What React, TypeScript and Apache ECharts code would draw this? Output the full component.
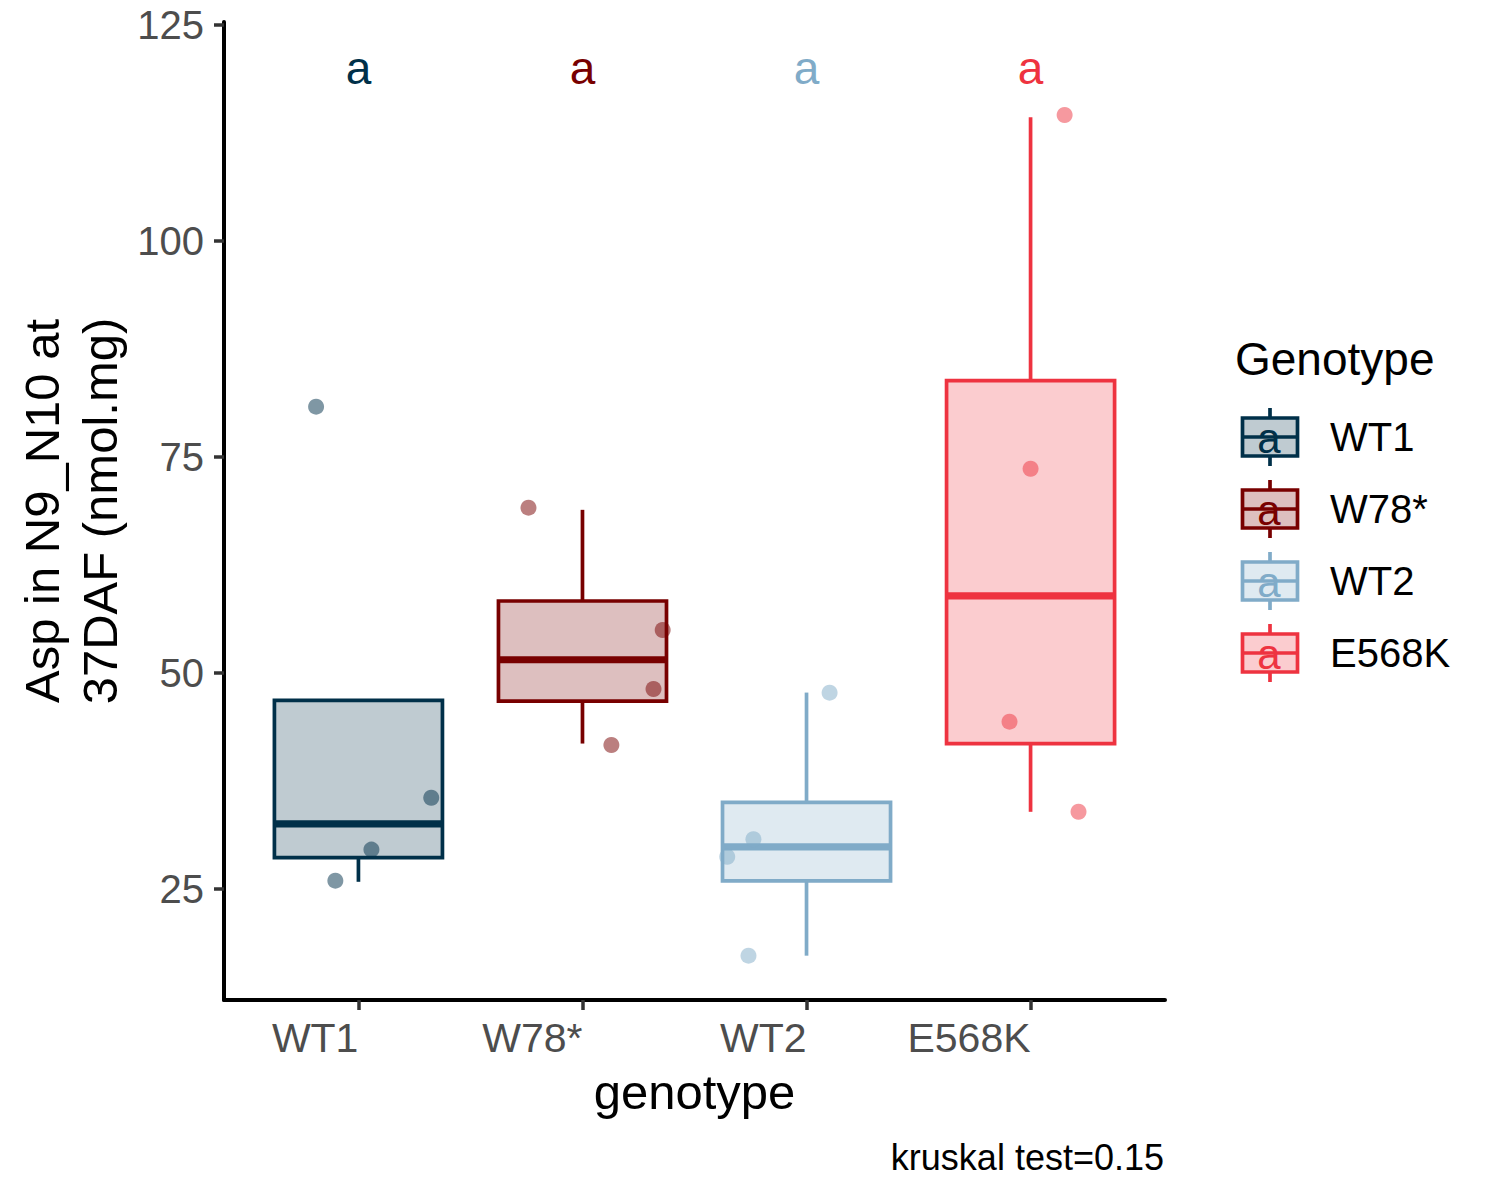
import React, { useEffect, useRef } from 'react';
import * as echarts from 'echarts';

const FONT = '"Liberation Sans", Arial, Helvetica, sans-serif';

const categories = ['WT1', 'W78*', 'WT2', 'E568K'];
const colors = ['#003049', '#780000', '#80abc8', '#ee3340'];

// box statistics
const lowerWhisker = [25.8, 41.8, 17.25, 33.9];
const q1 = [28.6, 46.7, 25.9, 41.8];
const median = [32.5, 51.5, 29.85, 58.9];
const q3 = [46.8, 58.3, 35.0, 83.8];
const upperWhisker = [46.8, 68.85, 47.7, 114.3];

// jittered points (x = jittered category position, y = value)
const wt1X = [0.811, 1.325, 1.058, 0.897];
const wt1Y = [80.79, 35.53, 29.53, 25.93];
const w78X = [1.759, 2.358, 2.317, 2.129];
const w78Y = [69.1, 54.94, 48.11, 41.63];
const wt2X = [3.103, 2.763, 2.646, 2.741];
const wt2Y = [47.69, 30.72, 28.7, 17.25];
const e568kX = [4.152, 4.0, 3.906, 4.214];
const e568kY = [114.55, 73.61, 44.33, 33.91];

const letters = ['a', 'a', 'a', 'a'];
const letterY = [120, 120, 120, 120];

const yTicks = [25, 50, 75, 100, 125];
const xTicks = [1, 2, 3, 4];

const pointsX = [wt1X, w78X, wt2X, e568kX];
const pointsY = [wt1Y, w78Y, wt2Y, e568kY];

function rgba(hex: string, a: number) {
  const r = parseInt(hex.slice(1, 3), 16);
  const g = parseInt(hex.slice(3, 5), 16);
  const b = parseInt(hex.slice(5, 7), 16);
  return `rgba(${r},${g},${b},${a})`;
}

const HALF = 0.375;
const LW = 3.7;

export default function App() {
  const ref = useRef<HTMLDivElement>(null);
  useEffect(() => {
    document.body.style.margin = '0';
    const chart = echarts.init(ref.current!, null, { renderer: 'svg' });

    const boxData = categories.map((_, i) => [i + 1, lowerWhisker[i], q1[i], median[i], q3[i], upperWhisker[i]]);

    const boxSeries = {
      type: 'custom',
      name: 'box',
      z: 2,
      data: boxData,
      encode: { x: 0, y: [1, 5] },
      renderItem: (params: any, api: any) => {
        const x = api.value(0);
        const lo = api.value(1);
        const a = api.value(2);
        const m = api.value(3);
        const b = api.value(4);
        const hi = api.value(5);
        const c = colors[params.dataIndex];
        const tl = api.coord([x - HALF, b]);
        const br = api.coord([x + HALF, a]);
        const mc = api.coord([x, m]);
        const pLo = api.coord([x, lo]);
        const pHi = api.coord([x, hi]);
        const cx = mc[0];
        return {
          type: 'group',
          children: [
            { type: 'line', shape: { x1: cx, y1: pHi[1], x2: cx, y2: tl[1] }, style: { stroke: c, lineWidth: LW } },
            { type: 'line', shape: { x1: cx, y1: br[1], x2: cx, y2: pLo[1] }, style: { stroke: c, lineWidth: LW } },
            {
              type: 'rect',
              shape: { x: tl[0], y: tl[1], width: br[0] - tl[0], height: br[1] - tl[1] },
              style: { fill: rgba(c, 0.25), stroke: c, lineWidth: LW },
            },
            { type: 'line', shape: { x1: tl[0], y1: mc[1], x2: br[0], y2: mc[1] }, style: { stroke: c, lineWidth: 7.2 } },
          ],
        };
      },
    };

    const pointSeries = categories.map((cat, i) => ({
      type: 'scatter',
      name: cat,
      z: 3,
      symbol: 'circle',
      symbolSize: 16,
      data: pointsX[i].map((px, j) => [px, pointsY[i][j]]),
      itemStyle: { color: colors[i], opacity: 0.5 },
    }));

    const letterSeries = {
      type: 'custom',
      name: 'letters',
      z: 4,
      data: categories.map((_, i) => [i + 1, letterY[i]]),
      encode: { x: 0, y: 1 },
      renderItem: (params: any, api: any) => {
        const p = api.coord([api.value(0), api.value(1)]);
        return {
          type: 'text',
          x: p[0],
          y: p[1],
          style: {
            text: letters[params.dataIndex],
            fill: colors[params.dataIndex],
            fontSize: 46,
            fontFamily: FONT,
            align: 'center',
            verticalAlign: 'middle',
          },
        };
      },
    };

    const legendEls: any[] = [
      {
        type: 'text',
        x: 1235,
        y: 359,
        style: { text: 'Genotype', fontSize: 46, fontFamily: FONT, fill: '#000', align: 'left', verticalAlign: 'middle' },
      },
    ];
    categories.forEach((cat, i) => {
      const cy = 437 + 72 * i;
      const c = colors[i];
      legendEls.push(
        { type: 'line', shape: { x1: 1270, y1: cy - 29, x2: 1270, y2: cy + 29 }, style: { stroke: c, lineWidth: LW } },
        { type: 'rect', shape: { x: 1242.5, y: cy - 19, width: 55, height: 38 }, style: { fill: '#fff', stroke: 'none' } },
        { type: 'rect', shape: { x: 1242.5, y: cy - 19, width: 55, height: 38 }, style: { fill: rgba(c, 0.25), stroke: c, lineWidth: LW } },
        { type: 'line', shape: { x1: 1242.5, y1: cy, x2: 1297.5, y2: cy }, style: { stroke: c, lineWidth: 3.7 } },
        {
          type: 'text',
          x: 1269,
          y: cy + 1,
          style: { text: letters[i], fill: c, fontSize: 42, fontFamily: FONT, align: 'center', verticalAlign: 'middle' },
        },
        {
          type: 'text',
          x: 1330,
          y: cy,
          style: { text: cat, fill: '#000', fontSize: 40, fontFamily: FONT, align: 'left', verticalAlign: 'middle' },
        }
      );
    });

    const option: any = {
      animation: false,
      backgroundColor: '#ffffff',
      grid: { left: 224, right: 335, top: 22, bottom: 200, containLabel: false },
      xAxis: {
        type: 'value',
        min: 0.4,
        max: 4.6,
        axisLine: { show: true, onZero: false, lineStyle: { color: '#000', width: 4 } },
        axisTick: { show: true, customValues: xTicks, length: 10, lineStyle: { color: '#333', width: 3.5 } },
        axisLabel: {
          customValues: xTicks,
          formatter: (v: number) => categories[Math.round(v) - 1] ?? '',
          align: 'right',
          fontSize: 41,
          color: '#4d4d4d',
          fontFamily: FONT,
          margin: 17,
        },
        splitLine: { show: false },
      },
      yAxis: {
        type: 'value',
        min: 12.12,
        max: 125.31,
        axisLine: { show: true, onZero: false, lineStyle: { color: '#000', width: 4 } },
        axisTick: { show: true, customValues: yTicks, length: 10, lineStyle: { color: '#333', width: 3.5 } },
        axisLabel: {
          customValues: yTicks,
          fontSize: 40,
          color: '#4d4d4d',
          fontFamily: FONT,
          margin: 20,
        },
        splitLine: { show: false },
      },
      graphic: [
        {
          type: 'text',
          x: 71,
          y: 511,
          rotation: Math.PI / 2,
          style: {
            text: 'Asp in N9_N10 at\n37DAF (nmol.mg)',
            fontSize: 49,
            lineHeight: 58,
            fontFamily: FONT,
            fill: '#000',
            align: 'center',
            verticalAlign: 'middle',
          },
        },
        {
          type: 'text',
          x: 694.5,
          y: 1092,
          style: { text: 'genotype', fontSize: 49, fontFamily: FONT, fill: '#000', align: 'center', verticalAlign: 'middle' },
        },
        {
          type: 'text',
          x: 1164,
          y: 1157,
          style: { text: 'kruskal test=0.15', fontSize: 36, fontFamily: FONT, fill: '#000', align: 'right', verticalAlign: 'middle' },
        },
        ...legendEls,
      ],
      series: [boxSeries, ...pointSeries, letterSeries],
    };

    chart.setOption(option);
    return () => chart.dispose();
  }, []);
  return <div ref={ref} style={{ width: 1500, height: 1200 }} />;
}
